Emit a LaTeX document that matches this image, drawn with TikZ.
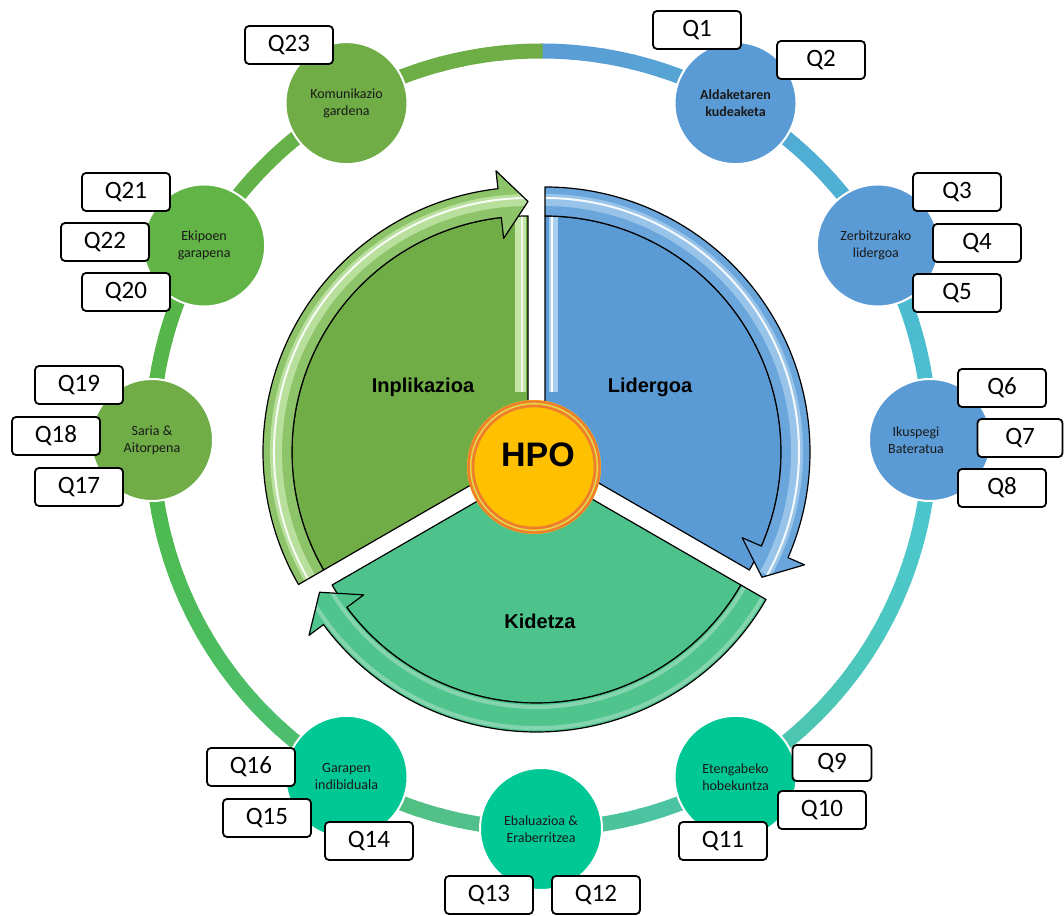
\documentclass[tikz,border=0pt]{standalone}
\usepackage{fontspec}
\setmainfont{Carlito}
\newfontfamily\headfont{Liberation Sans}
\usetikzlibrary{calc}

% ring colours, clockwise from the top
\definecolor{ra}{HTML}{5B9BD5}
\definecolor{rb}{HTML}{4FAED3}
\definecolor{rc}{HTML}{4BBDD0}
\definecolor{rd}{HTML}{4CC8CB}
\definecolor{re}{HTML}{4CC6B4}
\definecolor{rf}{HTML}{4CC3A0}
\definecolor{rg}{HTML}{52C088}
\definecolor{rh}{HTML}{4DBE6A}
\definecolor{ri}{HTML}{4DBA52}
\definecolor{rj}{HTML}{56B64B}
\definecolor{rk}{HTML}{6BAF47}
\definecolor{rl}{HTML}{70AD47}
% topic circles
\definecolor{tblue}{HTML}{5B9BD5}
\definecolor{tteal}{HTML}{00C895}
\definecolor{tgreen}{HTML}{70AD47}
\definecolor{tgreenb}{HTML}{62B446}
% central slices
\definecolor{lidface}{HTML}{5B9BD5}
\definecolor{lidband}{HTML}{6AA6DB}
\definecolor{lidgloss}{HTML}{A9CFF0}
\definecolor{inpface}{HTML}{70AD47}
\definecolor{inpband}{HTML}{8DC469}
\definecolor{inpgloss}{HTML}{C3E6A8}
\definecolor{kidface}{HTML}{4DC38B}
\definecolor{kidband}{HTML}{4FC48D}
\definecolor{hpogold}{HTML}{FFC000}
\definecolor{hpoorange}{HTML}{ED7D31}

\tikzset{
  qbox/.style={draw=black, line width=1.8pt, rounded corners=4pt, fill=white,
    minimum width=88pt, minimum height=38pt, inner sep=0pt,
    font=\fontsize{25}{30}\selectfont},
  topic/.style={circle, minimum size=122pt, inner sep=0pt, draw=white, line width=2pt},
  lbl/.style={align=center, font=\fontsize{14}{17}\selectfont, text=black!90},
  seclbl/.style={font=\headfont\bfseries\fontsize{20}{24}\selectfont},
  outline/.style={draw=black, line width=1.2pt, line join=round},
}

% one slice of the central pie with its curved arrow band
% #1 centre, #2 start angle, #3 end angle, #4 angle of the arrow head base,
% #5 face colour, #6 band colour, #7 gloss on the band, #8 extras on the face
\newcommand\arrowslice[8]{%
  \begin{scope}[shift={(#1)}]
    \fill[#5] (0,0) -- (#2:236) arc[start angle=#2, end angle=#3, radius=236pt] -- cycle;
    #8
    \draw[outline] (0,0) -- (#2:236) arc[start angle=#2, end angle=#3, radius=236pt] -- cycle;
    \fill[#6] (#2:236) -- (#2:265) arc[start angle=#2, end angle=#4, radius=265pt]
      -- (#4:283) -- (#3:250.5) -- (#4:215) -- (#4:236)
      arc[start angle=#4, end angle=#2, radius=236pt] -- cycle;
    \begin{scope}
      \clip (#2:236) -- (#2:265) arc[start angle=#2, end angle=#4, radius=265pt]
        -- (#4:283) -- (#3:250.5) -- (#4:215) -- (#4:236)
        arc[start angle=#4, end angle=#2, radius=236pt] -- cycle;
      #7
    \end{scope}
    \draw[outline] (#2:236) -- (#2:265) arc[start angle=#2, end angle=#4, radius=265pt]
      -- (#4:283) -- (#3:250.5) -- (#4:215) -- (#4:236)
      arc[start angle=#4, end angle=#2, radius=236pt] -- cycle;
  \end{scope}%
}

\begin{document}
\begin{tikzpicture}[x=1pt, y=1pt]
\useasboundingbox (0,0) rectangle (1064,915);
\fill[white] (0,0) rectangle (1064,915);

% outer ring, shaded clockwise from blue to green
\coordinate (ring) at (541,475);
\foreach \a/\b/\ca/\cb in {90/45/ra/rb, 45/15/rb/rc, 15/-15/rc/rd, -15/-45/rd/re,
    -45/-75/re/rf, -75/-105/rf/rg, -105/-135/rg/rh, -135/-165/rh/ri,
    -165/-195/ri/rj, -195/-240/rj/rk, -240/-270/rk/rl} {
  \foreach \i in {0,...,9} {
    \pgfmathsetmacro\ta{\a+(\b-\a)*\i/10}
    \pgfmathsetmacro\tb{\a+(\b-\a)*(\i+1)/10-0.25}
    \pgfmathtruncatemacro\p{95-10*\i}
    \draw[line width=15pt, color=\ca!\p!\cb] ($(ring)+(\ta:389)$)
      arc[start angle=\ta, end angle=\tb, radius=389pt];
  }
}

% topic circles on the ring
\node[topic, fill=tblue]   (c1) at ($(ring)+(60:389)$) {};
\node[topic, fill=tblue]   (c2) at ($(ring)+(30:389)$) {};
\node[topic, fill=tblue]   (c3) at ($(ring)+(0:389)$) {};
\node[topic, fill=tteal]   (c4) at ($(ring)+(-60:389)$) {};
\node[topic, fill=tteal]   (c5) at ($(ring)+(-90:389)$) {};
\node[topic, fill=tteal]   (c6) at ($(ring)+(-120:389)$) {};
\node[topic, fill=tgreen]  (c7) at ($(ring)+(180:389)$) {};
\node[topic, fill=tgreenb] (c8) at ($(ring)+(150:389)$) {};
\node[topic, fill=tgreen]  (c9) at ($(ring)+(120:389)$) {};

\node[lbl] (t1) at (c1) {\textbf{Aldaketaren}\\\textbf{kudeaketa}};
\node[lbl] (t2) at ($(c2)+(-2,0)$) {Zerbitzurako\\lidergoa};
\node[lbl] (t3) at ($(c3)+(-14,0)$) {Ikuspegi\\Bateratua};
\node[lbl] (t4) at (c4) {Etengabeko\\hobekuntza};
\node[lbl] (t5) at (c5) {Ebaluazioa \&\\Eraberritzea};
\node[lbl] (t6) at (c6) {Garapen\\indibiduala};
\node[lbl] (t7) at (c7) {Saria \&\\Aitorpena};
\node[lbl] (t8) at (c8) {Ekipoen\\garapena};
\node[lbl] (t9) at (c9) {Komunikazio\\gardena};

% question boxes
\node[qbox] (q1)  at (697,885) {Q1};
\node[qbox] (q2)  at (821,855) {Q2};
\node[qbox] (q3)  at (957,723) {Q3};
\node[qbox] (q4)  at (977,672) {Q4};
\node[qbox] (q5)  at (957,622) {Q5};
\node[qbox] (q6)  at (1002,527) {Q6};
\node[qbox, minimum width=85pt] (q7) at (1020,477) {Q7};
\node[qbox] (q8)  at (1002,427) {Q8};
\node[qbox, minimum width=79pt, minimum height=36pt] (q9) at (832,152) {Q9};
\node[qbox] (q10) at (822,105) {Q10};
\node[qbox] (q11) at (723,74) {Q11};
\node[qbox] (q12) at (596,20) {Q12};
\node[qbox] (q13) at (489,20) {Q13};
\node[qbox] (q14) at (369,74) {Q14};
\node[qbox] (q15) at (267,97) {Q15};
\node[qbox] (q16) at (251,148) {Q16};
\node[qbox] (q17) at (79,428) {Q17};
\node[qbox] (q18) at (56,479) {Q18};
\node[qbox] (q19) at (79,530) {Q19};
\node[qbox] (q20) at (126,623) {Q20};
\node[qbox] (q21) at (126,723) {Q21};
\node[qbox] (q22) at (105,673) {Q22};
\node[qbox] (q23) at (289,870) {Q23};

% central pie: three exploded slices, each with a curved arrow
\coordinate (lidc) at (545,463);
\coordinate (inpc) at (528,463);
\coordinate (kidc) at (536.5,448);

\arrowslice{lidc}{90}{-30}{-23.5}{lidface}{lidband}{%
  \draw[line width=12pt, color=lidgloss, opacity=0.75] (90:252) arc[start angle=90, end angle=-29, radius=252pt];
  \draw[line width=2pt, white, opacity=0.9] (90:254) arc[start angle=90, end angle=-29, radius=254pt];
}{%
  \draw[line width=9pt, color=lidgloss] (8,60) -- (8,236);
  \draw[line width=1.3pt, white] (7,60) -- (7,236);
}

\arrowslice{inpc}{210}{90}{96.5}{inpface}{inpband}{%
  \draw[line width=12pt, color=inpgloss, opacity=0.8] (210:252) arc[start angle=210, end angle=89, radius=252pt];
  \draw[line width=2pt, white, opacity=0.9] (210:254) arc[start angle=210, end angle=89, radius=254pt];
}{%
  \draw[line width=11pt, color=inpgloss] (-8,60) -- (-8,236);
  \draw[line width=1.5pt, white, opacity=0.8] (-6,60) -- (-6,236);
}

\arrowslice{kidc}{330}{210}{216.5}{kidface}{kidband}{%
  \draw[line width=4pt, white, opacity=0.3] (330:240) arc[start angle=330, end angle=209, radius=240pt];
  \draw[line width=4pt, white, opacity=0.3] (330:261) arc[start angle=330, end angle=209, radius=261pt];
}{}

\node[seclbl] (inp) at (423,528) {Inplikazioa};
\node[seclbl] (lid) at (650,528) {Lidergoa};
\node[seclbl] (kid) at (540,294) {Kidetza};

% centre badge
\node[circle, minimum size=134pt, inner sep=0pt, fill=hpogold] (hpo) at (534,448) {};
\draw[hpoorange, line width=2.4pt] (hpo.center) circle (65.5pt);
\draw[color=inpgloss, line width=0.6pt] (hpo.center) circle (63.3pt);
\draw[hpoorange, line width=2.6pt] (hpo.center) circle (61pt);
\node[font=\headfont\bfseries\fontsize{34}{40}\selectfont] (hpot) at (538,460) {HPO};
\end{tikzpicture}
\end{document}
